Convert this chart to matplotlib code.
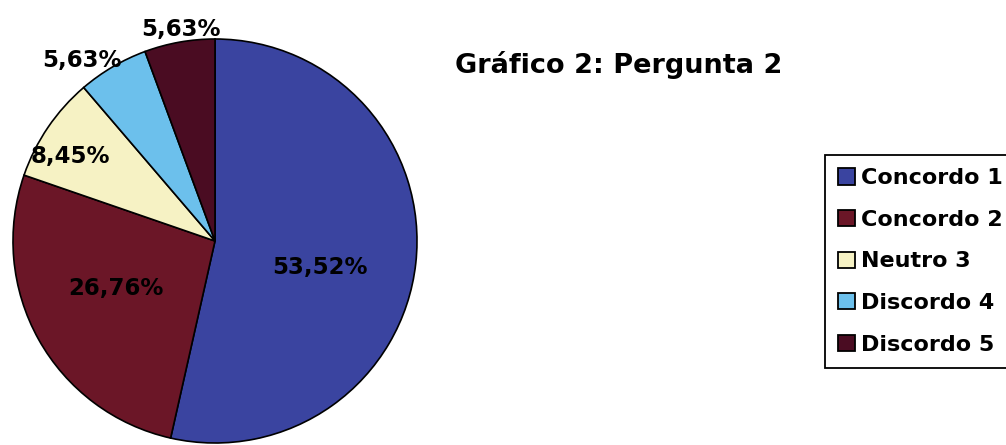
import numpy as np
import matplotlib
matplotlib.use("Agg")
import matplotlib.pyplot as plt

categories = ["Concordo 1", "Concordo 2", "Neutro 3", "Discordo 4", "Discordo 5"]
percentages = [53.52, 26.76, 8.45, 5.63, 5.63]
colors = ["#3a44a0", "#6b1627", "#f6f2c4", "#6cc0ec", "#4a0c22"]
title = "Gráfico 2: Pergunta 2"

# label placement per slice: radius (pie units) and angular offset (deg)
label_radius = [0.535, 0.545, 0.83, 1.11, 1.06]
label_offset = [-7.6, -3.3, 4.1, 5.9, -0.9]

plt.rcParams["font.family"] = ["DejaVu Sans"]

W, H = 1006, 445
fig = plt.figure(figsize=(W / 100, H / 100), dpi=100)
fig.patch.set_facecolor("white")

cx, cy, r = 215, 241, 202
ax = fig.add_axes([(cx - r) / W, (H - cy - r) / H, 2 * r / W, 2 * r / H])
wedges, _ = ax.pie(percentages, colors=colors, startangle=90, counterclock=False,
                   radius=1.0, wedgeprops=dict(edgecolor="black", linewidth=1.2))
ax.set_xlim(-1, 1)
ax.set_ylim(-1, 1)
ax.set_aspect("equal")
ax.axis("off")

for w, val, rr, off in zip(wedges, percentages, label_radius, label_offset):
    mid = np.deg2rad((w.theta1 + w.theta2) / 2 + off)
    txt = f"{val:.2f}%".replace(".", ",")
    ax.text(rr * np.cos(mid), rr * np.sin(mid), txt, ha="center", va="center",
            fontsize=16.5, fontweight="bold", color="black", clip_on=False)

fig.text(455 / W, 1 - 73 / H, title, ha="left", va="baseline",
         fontsize=19.5, fontweight="bold", color="black")

leg = fig.legend(wedges, categories, loc="upper left",
                 bbox_to_anchor=(825 / W, 1 - 155 / H),
                 prop=dict(size=16, weight="bold"),
                 frameon=True, fancybox=False, framealpha=1,
                 edgecolor="black", handlelength=0.75, handleheight=0.75,
                 handletextpad=0.27, labelspacing=0.97, borderpad=0.6,
                 borderaxespad=0)
leg.get_frame().set_linewidth(1.3)
for h in leg.legend_handles:
    h.set_linewidth(1.3)

fig.savefig("out.png", dpi=100, facecolor="white")
